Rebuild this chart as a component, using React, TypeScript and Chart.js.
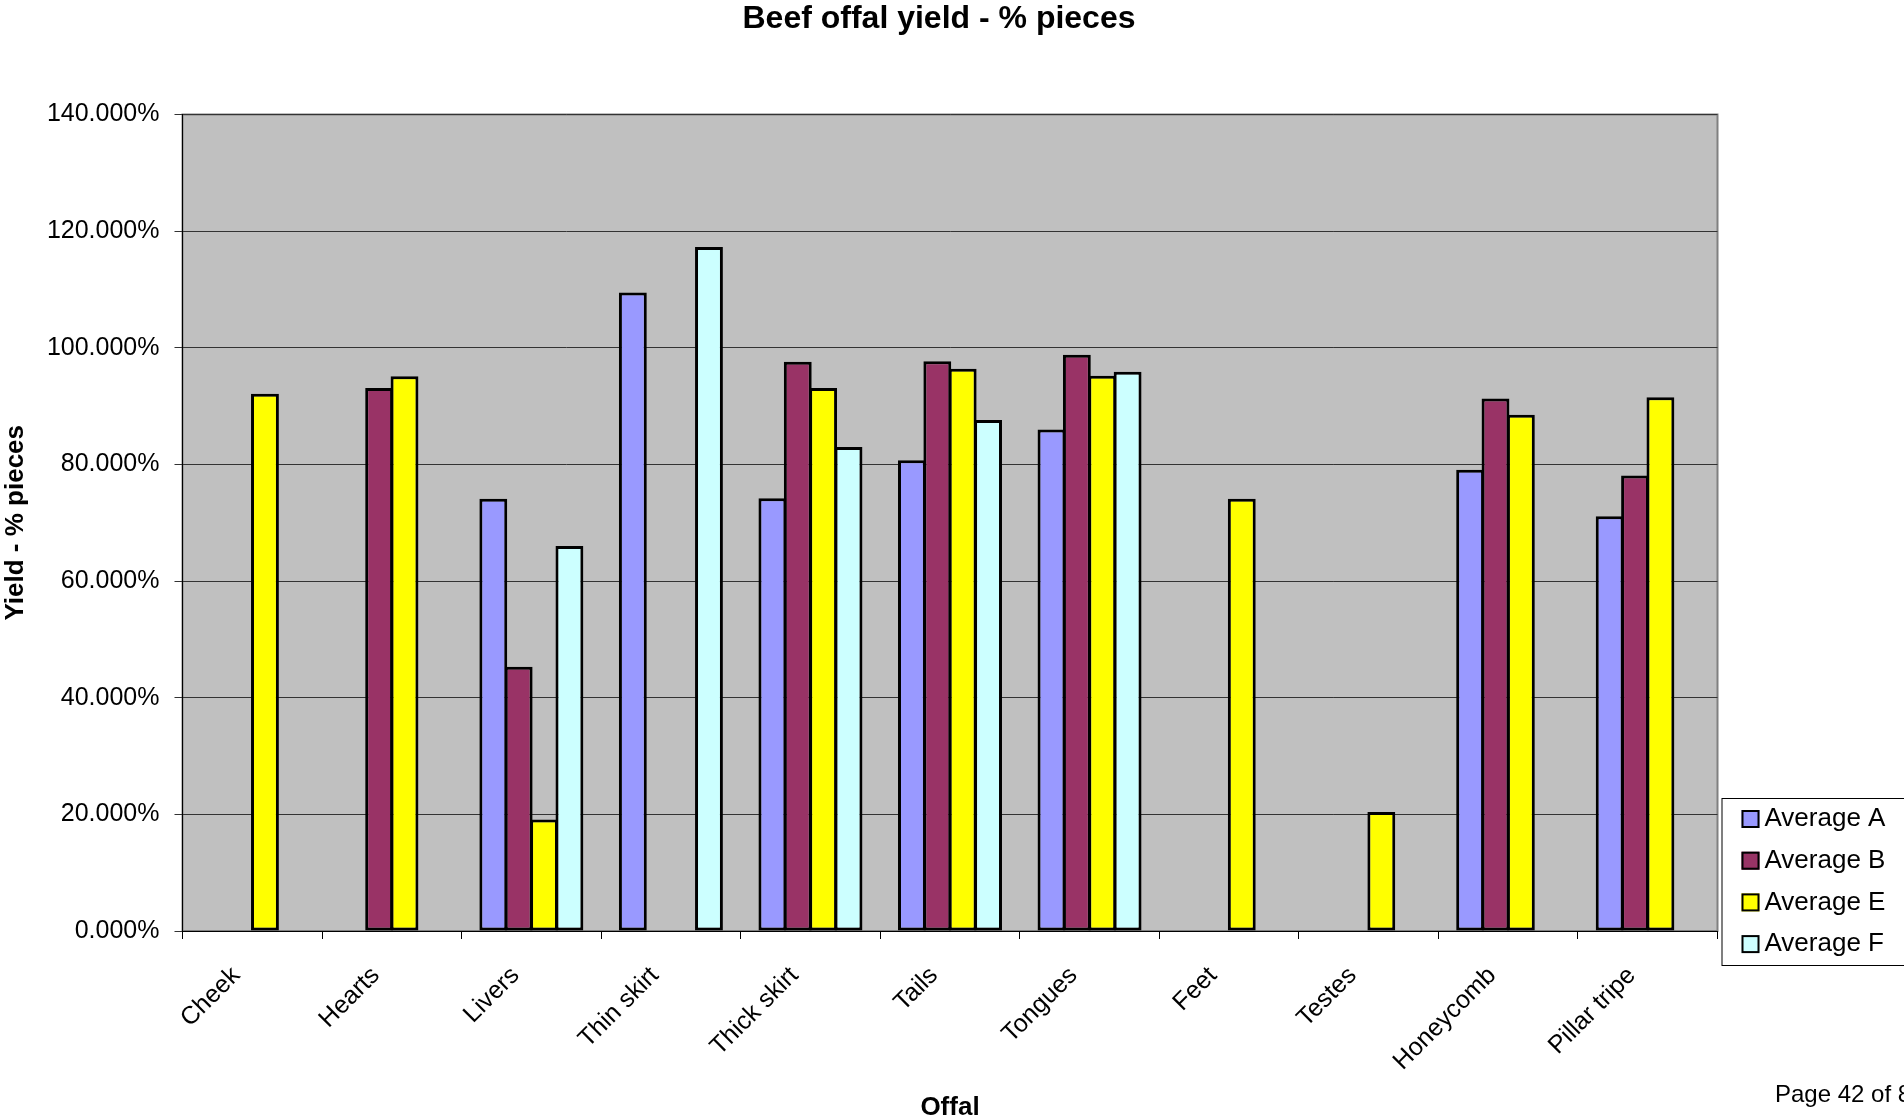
import { useEffect, useRef } from 'react';
import { Chart, registerables } from 'chart.js';

Chart.register(...registerables);

const FONT = "'Liberation Sans', Arial, Helvetica, sans-serif";

// Offal categories along the x axis
const categories = [
  'Cheek',
  'Hearts',
  'Livers',
  'Thin skirt',
  'Thick skirt',
  'Tails',
  'Tongues',
  'Feet',
  'Testes',
  'Honeycomb',
  'Pillar tripe',
];

// Yield (% pieces) per series; null = no data for that offal
const averageA = [null, null, 74.1, 109.5, 74.2, 80.7, 86.0, null, null, 79.1, 71.1];
const averageB = [null, 93.1, 45.3, null, 97.6, 97.7, 98.8, null, null, 91.3, 78.1];
const averageE = [92.1, 95.1, 19.1, null, 93.1, 96.4, 95.2, 74.1, 20.4, 88.5, 91.5];
const averageF = [null, null, 66.0, 117.3, 83.0, 87.6, 95.9, null, null, null, null];

const seriesLabels = ['Average A', 'Average B', 'Average E', 'Average F'];
const seriesColors = ['#9999FF', '#993366', '#FFFF00', '#CCFFFF'];

// Value axis
const yMin = 0;
const yMax = 140;
const yStep = 20;

const chartTitle = 'Beef offal yield - % pieces';
const yAxisTitle = 'Yield - % pieces';
const xAxisTitle = 'Offal';
const pageNote = 'Page 42 of 8';

const BAR_BORDER = 3;

const plotBackground = {
  id: 'plotBackground',
  beforeDraw(chart: any) {
    const { ctx, chartArea } = chart;
    const { left, top, right, bottom } = chartArea;
    ctx.save();
    ctx.fillStyle = '#C0C0C0';
    ctx.fillRect(left, top, right - left, bottom - top);
    ctx.strokeStyle = '#808080';
    ctx.lineWidth = 2;
    ctx.strokeRect(left, top, right - left, bottom - top);
    ctx.restore();
  },
};

const annotations = {
  id: 'annotations',
  afterDraw(chart: any) {
    const { ctx, chartArea } = chart;
    ctx.save();

    // chart heading
    ctx.fillStyle = '#000';
    ctx.font = `bold 32px ${FONT}`;
    ctx.textAlign = 'center';
    ctx.textBaseline = 'alphabetic';
    ctx.fillText(chartTitle, 939, 28);

    // side legend box
    const lx = chartArea.right + 4;
    const ly = 798;
    ctx.fillStyle = '#fff';
    ctx.fillRect(lx, ly, 220, 168);
    ctx.strokeStyle = '#000';
    ctx.lineWidth = 1;
    ctx.strokeRect(lx + 0.5, ly + 0.5, 220, 167);

    chart.data.datasets.forEach((ds: any, i: number) => {
      const cy = ly + 21 + i * 41.7;
      ctx.fillStyle = ds.backgroundColor;
      ctx.fillRect(lx + 20, cy - 9, 18, 18);
      ctx.strokeStyle = '#000';
      ctx.lineWidth = 2;
      ctx.strokeRect(lx + 21, cy - 8, 16, 16);
      ctx.fillStyle = '#000';
      ctx.font = `26px ${FONT}`;
      ctx.textAlign = 'left';
      ctx.textBaseline = 'middle';
      ctx.fillText(ds.label, lx + 43, cy);
    });

    // page footer
    ctx.font = `24px ${FONT}`;
    ctx.textAlign = 'left';
    ctx.textBaseline = 'alphabetic';
    ctx.fillStyle = '#000';
    ctx.fillText(pageNote, 1775, 1102);

    ctx.restore();
  },
};

export default function App() {
  const canvasRef = useRef<HTMLCanvasElement | null>(null);

  useEffect(() => {
    const canvas = canvasRef.current;
    if (!canvas) return;

    const series = [averageA, averageB, averageE, averageF];
    const slot = 1 / 5.5; // four bars plus a 150% gap per category

    const chart = new Chart(canvas, {
      type: 'bar',
      data: {
        labels: categories,
        datasets: series.map((values, i) => ({
          label: seriesLabels[i],
          data: values,
          backgroundColor: seriesColors[i],
          borderColor: '#000',
          borderWidth: BAR_BORDER,
          borderSkipped: false,
          categoryPercentage: 4 * slot,
          // neighbouring bars overlap by about one border width so they share an edge
          barPercentage: 1 + (BAR_BORDER - 0.5) / 25.4,
        })),
      },
      options: {
        responsive: false,
        animation: false,
        devicePixelRatio: 1,
        layout: { padding: { left: 0, top: 114.5, right: 186.5, bottom: 0 } },
        plugins: {
          legend: { display: false },
          title: { display: false },
          tooltip: { enabled: false },
        },
        scales: {
          x: {
            offset: true,
            grid: {
              offset: true,
              drawOnChartArea: false,
              drawTicks: true,
              tickLength: 8,
              color: '#000',
            },
            border: { display: true, color: '#000', width: 1 },
            ticks: {
              autoSkip: false,
              minRotation: 45,
              maxRotation: 45,
              padding: 22,
              labelOffset: -16,
              color: '#000',
              font: { family: FONT, size: 25 },
            },
            title: {
              display: true,
              text: xAxisTitle,
              color: '#000',
              font: { family: FONT, size: 26, weight: 'bold' },
              padding: { top: 0, bottom: -5 },
            },
            afterFit(scale: any) {
              scale.height = 187;
            },
          },
          y: {
            min: yMin,
            max: yMax,
            grid: {
              color: '#333',
              lineWidth: 1,
              drawTicks: true,
              tickLength: 8,
            },
            border: { display: true, color: '#000', width: 1 },
            ticks: {
              stepSize: yStep,
              padding: 15,
              color: '#000',
              font: { family: FONT, size: 25 },
              callback: (v: any) => `${Number(v).toFixed(3)}%`,
            },
            title: {
              display: true,
              text: yAxisTitle,
              color: '#000',
              font: { family: FONT, size: 26, weight: 'bold' },
              padding: { top: 0, bottom: 0 },
            },
            afterFit(scale: any) {
              scale.width = 182.5;
            },
          },
        },
      },
      plugins: [plotBackground, annotations],
    });

    return () => chart.destroy();
  }, []);

  return (
    <div style={{ position: 'fixed', left: 0, top: 0, width: 1904, height: 1118, background: '#fff' }}>
      <canvas ref={canvasRef} width={1904} height={1118} style={{ display: 'block' }} />
    </div>
  );
}
